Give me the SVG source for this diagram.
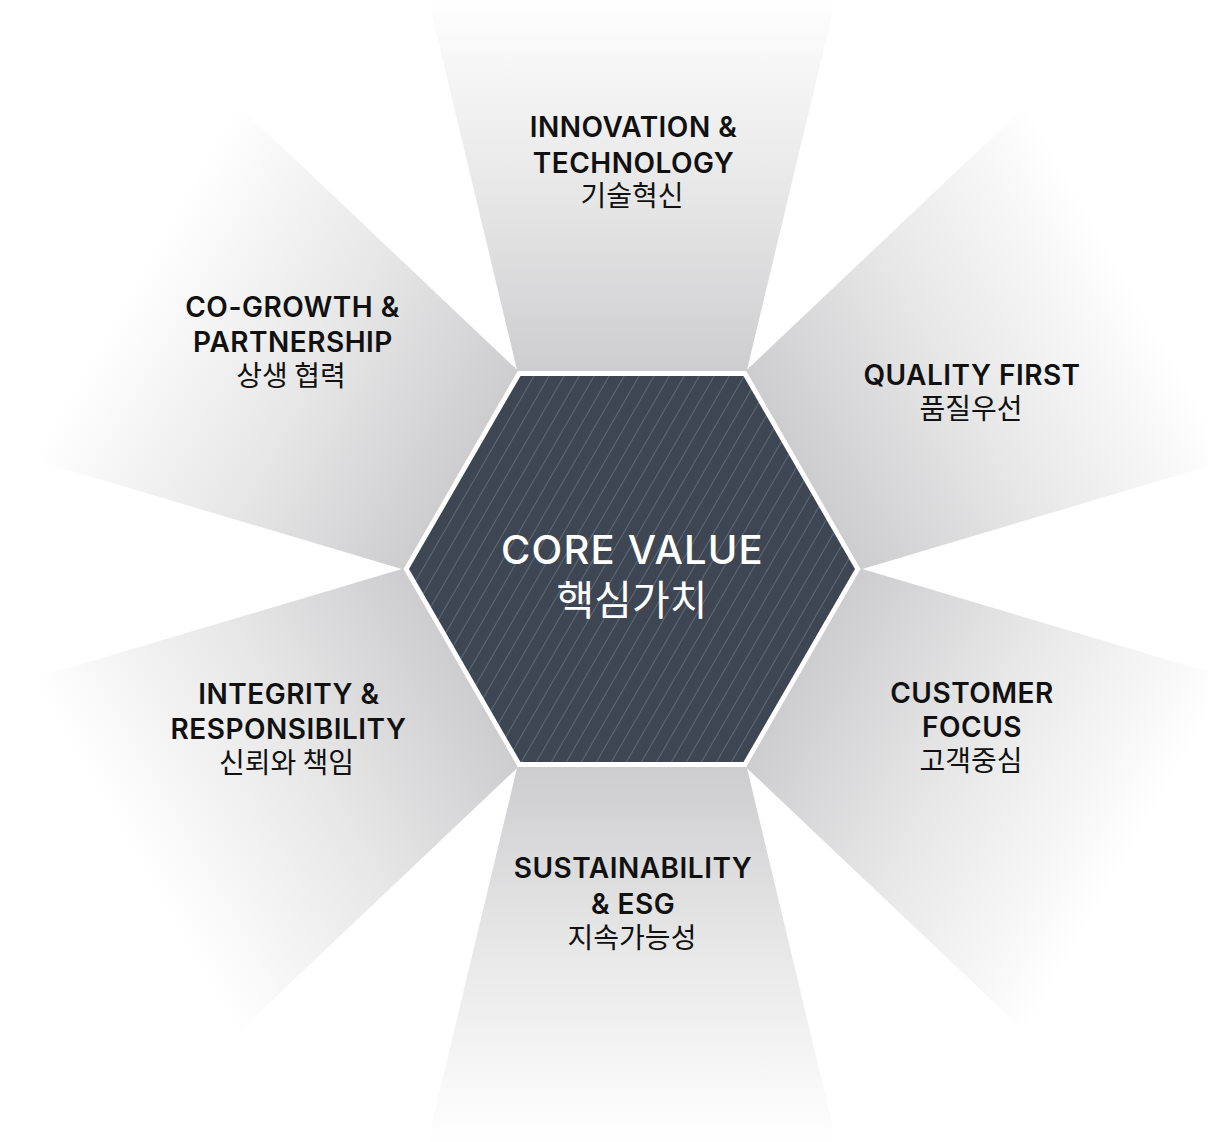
<svg xmlns="http://www.w3.org/2000/svg" width="1208" height="1142" viewBox="0 0 1208 1142">
  <defs>
    <!-- ray fill: grey at the hexagon edge, fading to white outward (local frame, ray points up) -->
    <linearGradient id="rayFade" gradientUnits="userSpaceOnUse" x1="0" y1="-197" x2="0" y2="-575">
      <stop offset="0" stop-color="#cdcdcf"/>
      <stop offset="0.45" stop-color="#e6e6e7"/>
      <stop offset="1" stop-color="#ffffff"/>
    </linearGradient>
    <!-- thin diagonal pinstripes for the core hexagon -->
    <pattern id="pinstripe" patternUnits="userSpaceOnUse" width="13" height="13" patternTransform="rotate(30)">
      <rect x="0" y="0" width="13" height="13" fill="#3e4653"/>
      <rect x="0" y="0" width="1" height="13" fill="#5e6977"/>
    </pattern>
    <path id="ray" d="M -114.5,-197 L 114.5,-197 L 220.6,-640 L -220.6,-640 Z"/>
  </defs>
  <style>
    .ray { fill: url(#rayFade); }
    .en { font-family: "Inter", "Liberation Sans", sans-serif; font-weight: 600; font-size: 28px; letter-spacing: 0.5px; fill: #111111; text-anchor: middle; }
    .ko { font-family: "Noto Sans CJK KR", sans-serif; font-weight: 400; font-size: 28px; fill: #111111; text-anchor: middle; }
    .core-en { font-family: "Inter", "Liberation Sans", sans-serif; font-weight: 500; font-size: 40px; letter-spacing: 1.2px; fill: #ffffff; text-anchor: middle; }
    .core-ko { font-family: "Noto Sans CJK KR", sans-serif; font-weight: 400; font-size: 41px; fill: #ffffff; text-anchor: middle; }
  </style>

  <rect width="1208" height="1142" fill="#ffffff"/>

  <!-- six value rays, one per hexagon edge -->
  <g id="rays">
    <g id="ray-innovation" transform="translate(632,569) rotate(0)"><use href="#ray" class="ray"/></g>
    <g id="ray-quality" transform="translate(632,569) rotate(60)"><use href="#ray" class="ray"/></g>
    <g id="ray-customer" transform="translate(632,569) rotate(120)"><use href="#ray" class="ray"/></g>
    <g id="ray-sustainability" transform="translate(632,569) rotate(180)"><use href="#ray" class="ray"/></g>
    <g id="ray-integrity" transform="translate(632,569) rotate(240)"><use href="#ray" class="ray"/></g>
    <g id="ray-cogrowth" transform="translate(632,569) rotate(300)"><use href="#ray" class="ray"/></g>
  </g>

  <!-- core hexagon -->
  <g id="core">
    <polygon points="860.5,569 746.25,371.1 517.75,371.1 403.5,569 517.75,766.9 746.25,766.9" fill="#ffffff"/>
    <polygon points="855,569 743.5,375.9 520.5,375.9 409,569 520.5,762.1 743.5,762.1" fill="url(#pinstripe)"/>
    <text class="core-en" x="632.5" y="564">CORE VALUE</text>
    <text class="core-ko" x="632" y="615">핵심가치</text>
  </g>

  <g id="node-innovation">
    <text class="en" x="633.5" y="136.5">INNOVATION &amp;</text>
    <text class="en" x="633.5" y="172.5">TECHNOLOGY</text>
    <text class="ko" x="632" y="206">기술혁신</text>
  </g>

  <g id="node-quality">
    <text class="en" x="972" y="385">QUALITY FIRST</text>
    <text class="ko" x="971" y="419">품질우선</text>
  </g>

  <g id="node-customer">
    <text class="en" x="972" y="702.5">CUSTOMER</text>
    <text class="en" x="972" y="737">FOCUS</text>
    <text class="ko" x="971" y="771">고객중심</text>
  </g>

  <g id="node-sustainability">
    <text class="en" x="633" y="878">SUSTAINABILITY</text>
    <text class="en" x="633" y="914">&amp; ESG</text>
    <text class="ko" x="632" y="948">지속가능성</text>
  </g>

  <g id="node-integrity">
    <text class="en" x="289" y="704">INTEGRITY &amp;</text>
    <text class="en" x="288.5" y="739">RESPONSIBILITY</text>
    <text class="ko" x="286.5" y="773">신뢰와 책임</text>
  </g>

  <g id="node-cogrowth">
    <text class="en" x="292.5" y="316.5">CO-GROWTH &amp;</text>
    <text class="en" x="293" y="352">PARTNERSHIP</text>
    <text class="ko" x="291" y="386">상생 협력</text>
  </g>
</svg>
